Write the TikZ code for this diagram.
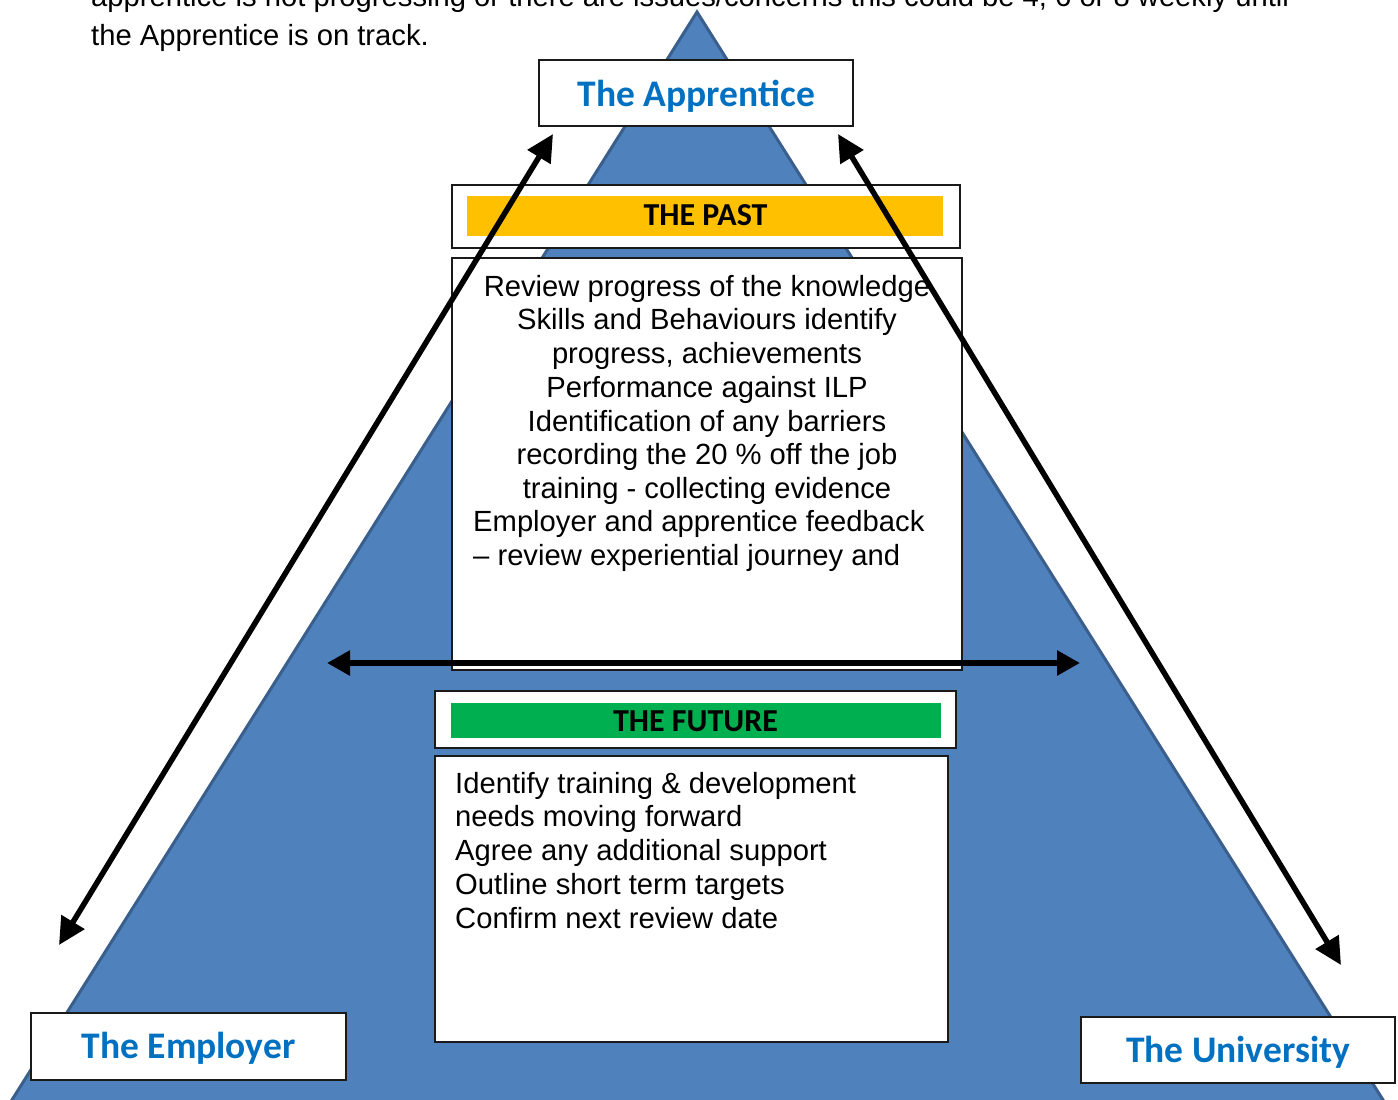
\documentclass[tikz,border=0pt]{standalone}
\usepackage{fontspec}
\setmainfont{Liberation Sans}
\newfontfamily\titlefont{Carlito}
\usetikzlibrary{arrows.meta}
\definecolor{tri}{HTML}{4F81BD}
\definecolor{triedge}{HTML}{3A5F8C}
\definecolor{ttlblue}{HTML}{0070C0}
\definecolor{pastbar}{HTML}{FFC000}
\definecolor{futurebar}{HTML}{00B050}
\definecolor{boxedge}{HTML}{1A1A1A}
\begin{document}
\begin{tikzpicture}[x=1pt,y=-1pt,
  frame/.style={draw=boxedge, line width=2pt, fill=white, inner sep=0pt},
  bar/.style={draw=none, inner sep=0pt},
  body/.style={font=\fontsize{29.2}{33.75}\selectfont, inner sep=0pt},
  title/.style={font=\titlefont\bfseries\fontsize{37.5}{40}\selectfont, text=ttlblue, inner sep=0pt},
  header/.style={font=\titlefont\bfseries\fontsize{32}{36}\selectfont, inner sep=0pt},
  link/.style={line width=5.5pt, {Triangle[length=27pt,width=26pt]}-{Triangle[length=27pt,width=26pt]}},
]
\useasboundingbox (0,0) rectangle (1398,1100);
\clip (0,0) rectangle (1398,1100);
\fill[white] (0,0) rectangle (1398,1100);

% running text above the figure (multi-line nodes sit on their last baseline)
\node[body, font=\fontsize{29.2}{39}\selectfont, align=left, anchor=base west] (intro) at (91,45)
  {apprentice is not progressing or there are issues/concerns this could be 4, 6 or 8 weekly until\\
   the Apprentice is on track.};

% pyramid
\filldraw[fill=tri, draw=triedge, line width=3pt, line join=miter]
  (697,12) -- (1402,1130) -- (-7,1130) -- cycle;

% the three parties
\node[frame, minimum width=314pt, minimum height=66pt] (appbox) at (696,93) {};
\node[title, anchor=base] (apprentice) at (696.5,106) {The Apprentice};

\node[frame, minimum width=315pt, minimum height=67pt] (empbox) at (188.5,1046.5) {};
\node[title, anchor=base] (employer) at (188.5,1058) {The Employer};

\node[frame, minimum width=314pt, minimum height=66pt] (unibox) at (1238,1050) {};
\node[title, anchor=base] (university) at (1238,1062) {The University};

% the past
\node[frame, minimum width=508pt, minimum height=63pt] (pasthead) at (706,216.5) {};
\node[bar, fill=pastbar, minimum width=476pt, minimum height=40pt] (pastbar) at (705,216) {};
\node[header, anchor=base] (pastlabel) at (705.5,225) {THE PAST};

\node[frame, minimum width=510pt, minimum height=412pt] (pastbox) at (707,464) {};
\node[body, align=center, anchor=base] (pasttext) at (707,498.5)
  {Review progress of the knowledge\\
   Skills and Behaviours identify\\
   progress, achievements\\
   Performance against ILP\\
   Identification of any barriers\\
   recording the 20 \% off the job\\
   training - collecting evidence};
\node[body, align=left, anchor=base west] (pasttext2) at (473,565.5)
  {Employer and apprentice feedback\\
   -- review experiential journey and};

% the future
\node[frame, minimum width=521pt, minimum height=57pt] (futhead) at (695.5,719.5) {};
\node[bar, fill=futurebar, minimum width=490pt, minimum height=35pt] (futbar) at (696,720.5) {};
\node[header, anchor=base] (futlabel) at (695.5,731.5) {THE FUTURE};

\node[frame, minimum width=513pt, minimum height=286pt] (futbox) at (691.5,899) {};
\node[body, align=left, anchor=base west] (futtext) at (455,928)
  {Identify training \& development\\
   needs moving forward\\
   Agree any additional support\\
   Outline short term targets\\
   Confirm next review date};

% arrow end points
\coordinate (appL) at (553,134);
\coordinate (empT) at (59,945);
\coordinate (appR) at (838,134);
\coordinate (uniT) at (1341,965);
\coordinate (midL) at (327,663);
\coordinate (midR) at (1080,663);

\draw[link] (empT) -- (appL);
\draw[link] (uniT) -- (appR);
\draw[line width=6.5pt, {Triangle[length=23pt,width=24pt]}-{Triangle[length=23pt,width=24pt]}] (midL) -- (midR);
\end{tikzpicture}
\end{document}
